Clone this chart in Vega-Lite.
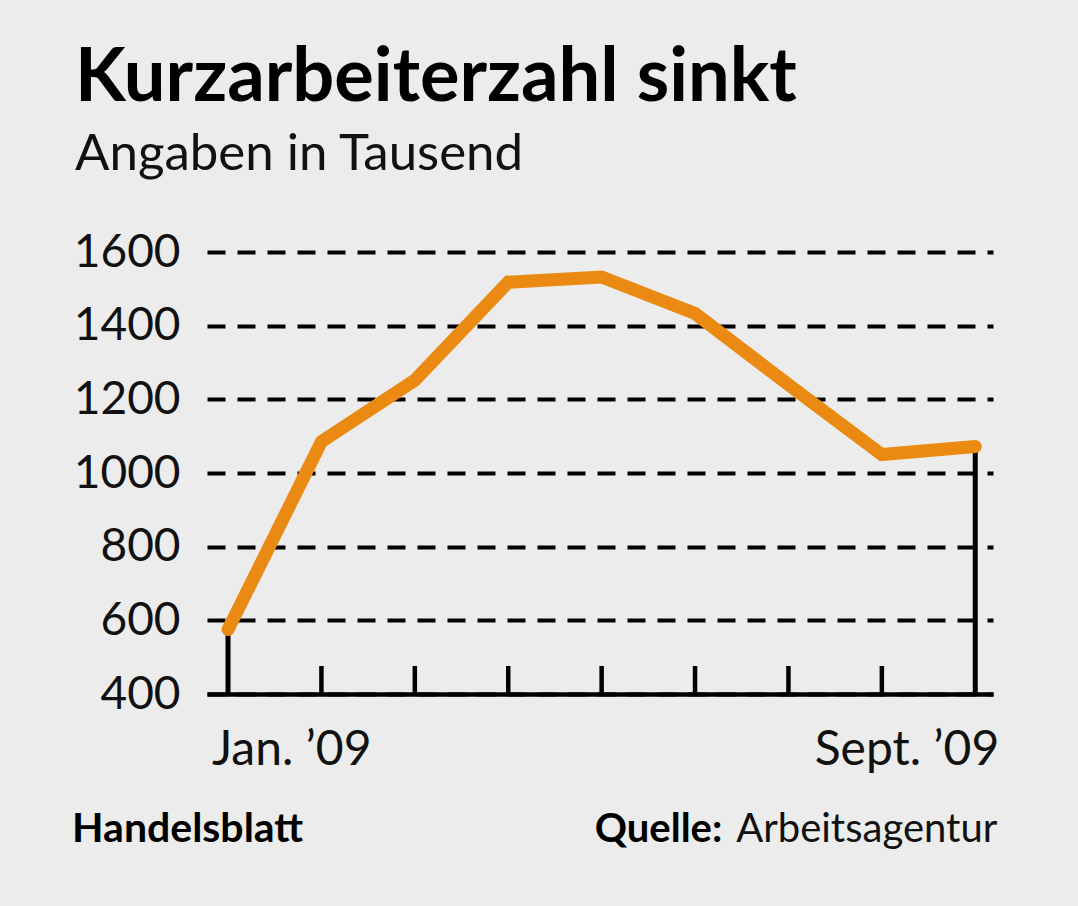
{
  "$schema": "https://vega.github.io/schema/vega-lite/v6.json",
  "width": 786,
  "height": 442,
  "autosize": {"type": "none"},
  "padding": {"left": 207, "top": 252, "right": 85, "bottom": 212},
  "background": "#ebeceb",
  "config": {"view": {"stroke": null}, "font": "Lato"},
  "title": {
    "text": "Kurzarbeiterzahl sinkt",
    "subtitle": "Angaben in Tausend",
    "anchor": "start",
    "frame": "group",
    "dx": -132,
    "offset": 48,
    "font": "Lato",
    "fontSize": 74,
    "fontWeight": "bold",
    "color": "#000000",
    "subtitleFont": "Lato",
    "subtitleFontSize": 51,
    "subtitleColor": "#111111",
    "subtitlePadding": 13
  },
  "data": {
    "values": [
      {"monat": 1, "kurzarbeiter": 575},
      {"monat": 2, "kurzarbeiter": 1085},
      {"monat": 3, "kurzarbeiter": 1252},
      {"monat": 4, "kurzarbeiter": 1518},
      {"monat": 5, "kurzarbeiter": 1532},
      {"monat": 6, "kurzarbeiter": 1433},
      {"monat": 7, "kurzarbeiter": 1240},
      {"monat": 8, "kurzarbeiter": 1050},
      {"monat": 9, "kurzarbeiter": 1072}
    ]
  },
  "layer": [
    {
      "transform": [{"filter": "datum.monat == 1 || datum.monat == 9"}],
      "mark": {"type": "rule", "color": "#000000", "strokeWidth": 5, "opacity": 1},
      "encoding": {
        "x": {"field": "monat", "type": "quantitative", "scale": {"domain": [0.775, 9.19], "nice": false, "zero": false},
          "axis": {"domain": true, "domainColor": "#000000", "domainWidth": 4.5, "domainOpacity": 1, "ticks": false, "labels": false, "grid": false, "title": null}},
        "y": {"field": "kurzarbeiter", "type": "quantitative", "scale": {"domain": [400, 1600], "nice": false, "zero": false},
          "axis": {
            "values": [400, 600, 800, 1000, 1200, 1400, 1600],
            "format": "d",
            "grid": true,
            "gridDash": [18, 12],
            "gridWidth": 4,
            "gridColor": "#000000",
            "gridOpacity": 1,
            "domain": false,
            "ticks": false,
            "labelFont": "Lato",
            "labelFontSize": 46,
            "labelColor": "#111111",
            "labelPadding": 27,
            "title": null
          }},
        "y2": {"datum": 400}
      }
    },
    {
      "transform": [{"filter": "datum.monat > 1 && datum.monat < 9"}],
      "mark": {"type": "tick", "orient": "vertical", "color": "#000000", "thickness": 4.5, "size": 28, "opacity": 1},
      "encoding": {
        "x": {"field": "monat", "type": "quantitative"},
        "y": {"datum": 438, "type": "quantitative"}
      }
    },
    {
      "mark": {"type": "line", "color": "#ea8a12", "strokeWidth": 13, "strokeCap": "round", "strokeJoin": "miter"},
      "encoding": {
        "x": {"field": "monat", "type": "quantitative"},
        "y": {"field": "kurzarbeiter", "type": "quantitative"}
      }
    },
    {
      "data": {"values": [{}]},
      "mark": {"type": "text", "text": "Jan. ’09", "align": "left", "baseline": "alphabetic", "font": "Lato", "fontSize": 48, "color": "#111111", "dx": -16, "dy": 71},
      "encoding": {"x": {"datum": 1, "type": "quantitative"}, "y": {"datum": 400, "type": "quantitative"}}
    },
    {
      "data": {"values": [{}]},
      "mark": {"type": "text", "text": "Sept. ’09", "align": "right", "baseline": "alphabetic", "font": "Lato", "fontSize": 48, "color": "#111111", "dx": 24, "dy": 71},
      "encoding": {"x": {"datum": 9, "type": "quantitative"}, "y": {"datum": 400, "type": "quantitative"}}
    },
    {
      "data": {"values": [{}]},
      "mark": {"type": "text", "text": "Handelsblatt", "align": "left", "baseline": "alphabetic", "font": "Lato", "fontWeight": "bold", "fontSize": 41, "color": "#000000", "dx": -156, "dy": 148},
      "encoding": {"x": {"datum": 1, "type": "quantitative"}, "y": {"datum": 400, "type": "quantitative"}}
    },
    {
      "data": {"values": [{}]},
      "mark": {"type": "text", "text": "Arbeitsagentur", "align": "right", "baseline": "alphabetic", "font": "Lato", "fontSize": 40, "color": "#111111", "dx": 22, "dy": 148},
      "encoding": {"x": {"datum": 9, "type": "quantitative"}, "y": {"datum": 400, "type": "quantitative"}}
    },
    {
      "data": {"values": [{}]},
      "mark": {"type": "text", "text": "Quelle:", "align": "right", "baseline": "alphabetic", "font": "Lato", "fontWeight": "bold", "fontSize": 40, "color": "#000000", "dx": -253, "dy": 148},
      "encoding": {"x": {"datum": 9, "type": "quantitative"}, "y": {"datum": 400, "type": "quantitative"}}
    }
  ]
}
